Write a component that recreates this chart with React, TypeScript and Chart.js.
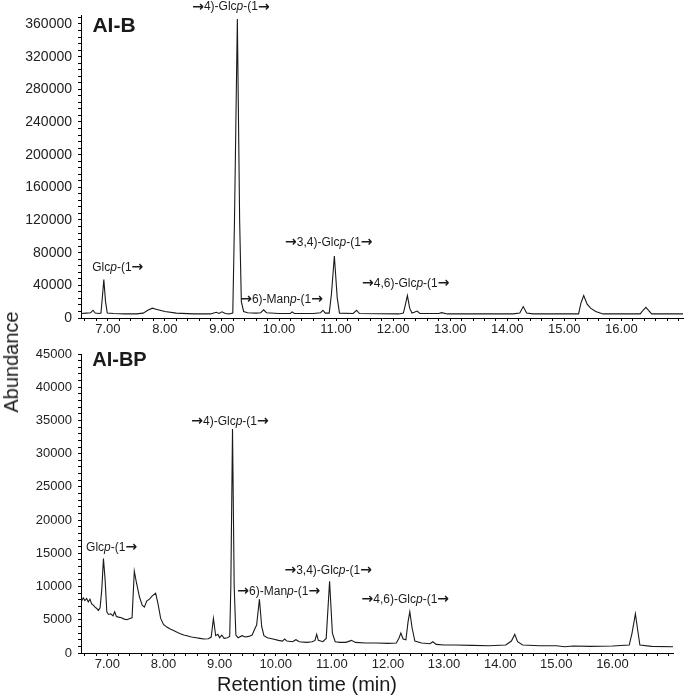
import React, { useEffect, useRef } from "react";
import { Chart, registerables } from "chart.js";

Chart.register(...registerables);

// ---------- Data (retention time in min, abundance) ----------
const topTime = [
  6.53, 6.62, 6.7, 6.74, 6.78, 6.85, 6.88, 6.91, 6.93, 6.96, 6.99, 7.1, 7.3, 7.5, 7.62, 7.7, 7.78, 7.86,
  8.0, 8.2, 8.5, 8.8, 8.9, 8.95, 9.0, 9.06, 9.12, 9.19, 9.22, 9.27, 9.31, 9.34, 9.38, 9.45, 9.6, 9.68,
  9.73, 9.78, 10.0, 10.2, 10.23, 10.27, 10.6, 10.73, 10.77, 10.81, 10.88, 10.92, 10.97, 11.02, 11.06,
  11.3, 11.36, 11.41, 12.1, 12.18, 12.22, 12.25, 12.29, 12.33, 12.37, 12.42, 12.47, 12.8, 12.85, 12.95,
  14.1, 14.22, 14.28, 14.34, 14.45, 15.25, 15.29, 15.34, 15.4, 15.46, 15.55, 15.68, 16.33, 16.38, 16.43,
  16.48, 16.53, 17.08,
];
const topAbund = [
  5500, 6000, 6500, 9500, 6000, 5500, 6000, 30000, 47000, 20000, 6000, 5500, 5000, 5000, 6000, 9500, 12000,
  10500, 8000, 6000, 5000, 5000, 7000, 5500, 7500, 5500, 5000, 6000, 120000, 366000, 120000, 20000, 8000,
  6500, 6000, 6500, 10000, 6500, 5500, 5500, 7500, 5500, 5500, 6500, 9500, 6000, 6000, 30000, 76000, 25000,
  6000, 5500, 9500, 5500, 5000, 6000, 18000, 27500, 12000, 6000, 7000, 8500, 5500, 5500, 6500, 5000, 5000,
  6000, 14000, 6000, 5000, 5000, 18000, 27500, 17000, 12000, 8000, 5000, 5000, 9500, 13000, 9000, 5000, 5000,
];

const botTime = [
  6.51, 6.54, 6.57, 6.6, 6.63, 6.66, 6.69, 6.72, 6.75, 6.78, 6.81, 6.84, 6.87, 6.9, 6.93, 6.96, 6.99, 7.02,
  7.06, 7.1, 7.13, 7.16, 7.2, 7.25, 7.3, 7.35, 7.4, 7.44, 7.48, 7.52, 7.57, 7.62, 7.66, 7.7, 7.75, 7.8, 7.86,
  7.9, 7.95, 8.0, 8.06, 8.12, 8.18, 8.25, 8.3, 8.36, 8.42, 8.5, 8.58, 8.65, 8.72, 8.8, 8.85, 8.89, 8.93, 8.97,
  9.0, 9.04, 9.08, 9.14, 9.18, 9.2, 9.23, 9.26, 9.29, 9.33, 9.4, 9.46, 9.52, 9.58, 9.62, 9.66, 9.71, 9.75,
  9.79, 9.85, 9.95, 10.05, 10.12, 10.16, 10.2, 10.3, 10.36, 10.42, 10.55, 10.65, 10.7, 10.73, 10.76, 10.84,
  10.9, 10.96, 11.01, 11.06, 11.15, 11.25, 11.35, 11.42, 11.6, 11.8, 12.0, 12.15, 12.2, 12.23, 12.27, 12.32,
  12.36, 12.39, 12.43, 12.48, 12.6, 12.75, 12.8, 12.86, 13.0, 13.2, 13.5, 13.8, 14.1, 14.2, 14.26, 14.31,
  14.4, 14.7, 15.0, 15.15, 15.3, 15.6, 16.0, 16.3, 16.35, 16.41, 16.45, 16.49, 16.7, 17.08,
];
const botAbund = [
  8400, 7800, 8300, 7900, 8200, 7700, 8100, 7400, 7200, 6900, 6700, 6400, 6800, 9500, 14200, 11000, 6200, 5800,
  5900, 5600, 6200, 5500, 5400, 5300, 5100, 5000, 5200, 5300, 12300, 10500, 8500, 7200, 6900, 7800, 8100, 8600,
  9000, 7500, 5200, 4300, 3900, 3600, 3400, 3100, 2900, 2700, 2600, 2400, 2300, 2200, 2100, 2150, 2400, 5200,
  2600, 2800, 2300, 2700, 2200, 2300, 2500, 10000, 33700, 10000, 2700, 2300, 2600, 2400, 2500, 2700, 3500, 4200,
  8100, 4000, 2600, 2300, 2100, 1900, 1800, 2100, 1800, 1700, 2000, 1700, 1600, 1700, 1900, 2800, 1900, 1700,
  2200, 10800, 3000, 1700, 1600, 1600, 1900, 1600, 1500, 1500, 1450, 1500, 2300, 3000, 2100, 2000, 4800, 6200,
  3800, 1800, 1500, 1400, 1700, 1300, 1200, 1200, 1150, 1100, 1200, 1800, 2800, 1700, 1200, 1100, 1100, 950,
  1050, 1000, 1050, 1200, 3000, 5900, 3500, 1200, 1000, 950,
];

// x tick labels shown on both panels
const xTickLabels = ["7.00", "8.00", "9.00", "10.00", "11.00", "12.00", "13.00", "14.00", "15.00", "16.00"];

// Annotations (text with _italic_ parts), anchored at (time, abundance)
const topLabelText = ["AI-B", "Glc_p_-(1→", "→4)-Glc_p_-(1→", "→6)-Man_p_-(1→", "→3,4)-Glc_p_-(1→", "→4,6)-Glc_p_-(1→"];
const topLabelTime = [6.73, 6.727, 8.478, 9.319, 10.107, 11.455];
const topLabelAbund = [357500, 61500, 380700, 22400, 92100, 42000];

const botLabelText = ["AI-BP", "Glc_p_-(1→", "→4)-Glc_p_-(1→", "→6)-Man_p_-(1→", "→3,4)-Glc_p_-(1→", "→4,6)-Glc_p_-(1→"];
const botLabelTime = [6.73, 6.62, 8.495, 9.316, 10.155, 11.53];
const botLabelAbund = [44000, 15900, 34800, 9250, 12430, 8050];

const xMin = 6.53;
const xMax = 17.08;
const xMinorStep = 0.2;
const topYMax = 371000;
const botYMax = 45000;

const FONT = '"Liberation Sans", Arial, sans-serif';
const ARROW_FONT = '"DejaVu Sans", sans-serif';
const INK = "#1a1a1a";

const labelPlugin = {
  id: "peakLabels",
  afterDatasetsDraw(chart: any, _args: any, opts: any) {
    const { ctx } = chart;
    const xs = chart.scales.x;
    const ys = chart.scales.y;
    ctx.save();
    ctx.fillStyle = INK;
    ctx.textBaseline = "middle";
    ctx.textAlign = "left";
    opts.texts.forEach((text: string, i: number) => {
      const bold = i === 0;
      const size = bold ? opts.titleSize : 12;
      let cx = xs.getPixelForValue(opts.times[i]);
      const cy = ys.getPixelForValue(opts.values[i]);
      text.split("_").forEach((part: string, k: number) => {
        const italic = k % 2 === 1;
        part.split(/(→)/).forEach((piece: string) => {
          if (!piece) return;
          if (piece === "→") {
            ctx.font = `bold 14px ${ARROW_FONT}`;
          } else {
            ctx.font = `${italic ? "italic " : ""}${bold ? "bold " : ""}${size}px ${FONT}`;
          }
          ctx.fillText(piece, cx, cy);
          cx += ctx.measureText(piece).width;
        });
      });
    });
    ctx.restore();
  },
};

// tick positions every `step` within [min, max] (minor ticks; labels only at major ones)
function stepTicks(min: number, max: number, step: number) {
  return (scale: any) => {
    const out: any[] = [];
    for (let k = Math.ceil(min / step - 1e-9); k * step <= max + 1e-9; k++) {
      out.push({ value: Math.round(k * step * 1000) / 1000 });
    }
    scale.ticks = out;
  };
}

function makeConfig(
  times: number[],
  values: number[],
  yMax: number,
  yMinorStep: number,
  yMajorStep: number,
  yFontSize: number,
  labels: { texts: string[]; times: number[]; values: number[]; titleSize: number },
  xAxisHeight: number,
  yAxisWidth: number,
  padding: any
): any {
  return {
    type: "line",
    data: {
      datasets: [
        {
          data: times.map((t, i) => ({ x: t, y: values[i] })),
          borderColor: INK,
          borderWidth: 1.1,
          pointRadius: 0,
          tension: 0,
          fill: false,
        },
      ],
    },
    options: {
      responsive: false,
      animation: false,
      layout: { padding },
      plugins: {
        legend: { display: false },
        tooltip: { enabled: false },
        peakLabels: labels,
      },
      scales: {
        x: {
          type: "linear",
          min: xMin,
          max: xMax,
          afterBuildTicks: stepTicks(xMin, xMax, xMinorStep),
          afterFit: (s: any) => {
            s.height = xAxisHeight;
          },
          border: { display: true, color: "#000", width: 1 },
          grid: { drawOnChartArea: false, drawTicks: true, tickLength: 3, color: "#000" },
          ticks: {
            autoSkip: false,
            maxRotation: 0,
            minRotation: 0,
            padding: 1,
            color: "#222",
            font: { family: FONT, size: 13 },
            callback: (v: any) => {
              const s = Number(v).toFixed(2);
              return xTickLabels.includes(s) ? s : "";
            },
          },
        },
        y: {
          type: "linear",
          min: 0,
          max: yMax,
          afterBuildTicks: stepTicks(0, yMax, yMinorStep),
          afterFit: (s: any) => {
            s.width = yAxisWidth;
          },
          border: { display: true, color: "#000", width: 1 },
          grid: { drawOnChartArea: false, drawTicks: true, tickLength: 3, color: "#000" },
          ticks: {
            autoSkip: false,
            padding: 6,
            color: "#222",
            font: { family: FONT, size: yFontSize },
            callback: (v: any) => {
              const n = Math.round(Number(v));
              return n % yMajorStep === 0 ? String(n) : "";
            },
          },
        },
      },
    },
    plugins: [labelPlugin],
  };
}

export default function App() {
  const topRef = useRef<HTMLCanvasElement>(null);
  const botRef = useRef<HTMLCanvasElement>(null);

  useEffect(() => {
    const top = new Chart(
      topRef.current as HTMLCanvasElement,
      makeConfig(
        topTime,
        topAbund,
        topYMax,
        8000,
        40000,
        14,
        { texts: topLabelText, times: topLabelTime, values: topLabelAbund, titleSize: 21 },
        22,
        81,
        { left: 0, right: 2, top: 15, bottom: 0 }
      )
    );
    const bot = new Chart(
      botRef.current as HTMLCanvasElement,
      makeConfig(
        botTime,
        botAbund,
        botYMax,
        1000,
        5000,
        13,
        { texts: botLabelText, times: botLabelTime, values: botLabelAbund, titleSize: 20 },
        47,
        81,
        { left: 0, right: 12, top: 14, bottom: 0 }
      )
    );
    return () => {
      top.destroy();
      bot.destroy();
    };
  }, []);

  const textStyle: React.CSSProperties = {
    position: "absolute",
    fontFamily: FONT,
    fontSize: 20,
    color: INK,
    whiteSpace: "nowrap",
    lineHeight: 1,
  };

  return (
    <div style={{ position: "absolute", left: 0, top: 0, width: 685, height: 700, background: "#fff" }}>
      <canvas ref={topRef} width={685} height={340} style={{ position: "absolute", left: 0, top: 0 }} />
      <canvas ref={botRef} width={685} height={360} style={{ position: "absolute", left: 0, top: 340 }} />
      <div style={{ ...textStyle, left: 11, top: 362, transform: "translate(-50%, -50%) rotate(-90deg)" }}>
        Abundance
      </div>
      <div style={{ ...textStyle, left: 307, top: 684, transform: "translate(-50%, -50%)" }}>
        Retention time (min)
      </div>
    </div>
  );
}
